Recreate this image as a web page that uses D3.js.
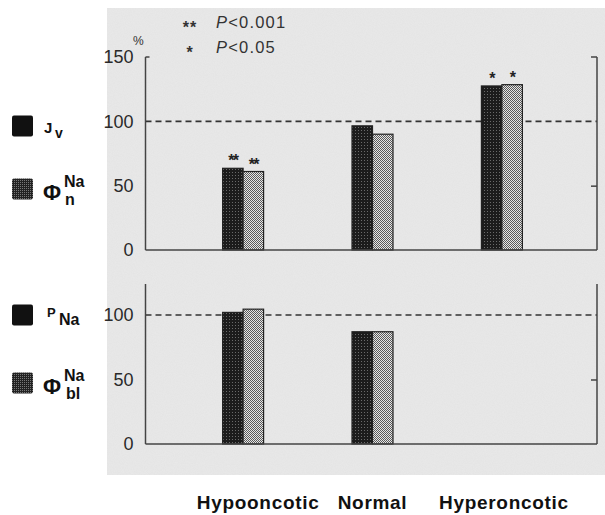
<!DOCTYPE html>
<html>
<head>
<meta charset="utf-8">
<script src="https://cdn.jsdelivr.net/npm/d3@7"></script>
<style>
  body { margin: 0; background: #fff; }
  svg { display: block; font-family: "Liberation Sans", Arial, sans-serif; }
  .tick text { font-size: 18px; fill: #2a2a2a; }
  .cat { font-size: 19px; font-weight: bold; letter-spacing: 0.7px; fill: #111; }
  .leg { font-weight: bold; fill: #111; }
</style>
</head>
<body>
<div id="chart"></div>
<script>
// conditions along the x axis
const categories = ["Hypooncotic", "Normal", "Hyperoncotic"];

// top panel (% of control)
const jv = [63.5, 96.5, 127.5];
const phiN = [61, 90, 128.5];
const topStars = ["**", "", "*"];

// bottom panel (% of control)
const pNa = [102, 87, null];
const phiBl = [104.5, 87, null];

const topTicks = [0, 50, 100, 150];
const bottomTicks = [0, 50, 100];

const width = 605, height = 515;
const axisL = 145.5, axisR = 597;
const barW = 20.5;

const svg = d3.select('#chart').append('svg').attr('width', width).attr('height', height);
const defs = svg.append('defs');

// dithered fills, like the printed halftone
const dark = defs.append('pattern').attr('id', 'dark').attr('width', 3).attr('height', 3).attr('patternUnits', 'userSpaceOnUse');
dark.append('rect').attr('width', 3).attr('height', 3).attr('fill', '#1c1c1c');
dark.append('rect').attr('x', 1).attr('y', 1).attr('width', 1).attr('height', 1).attr('fill', '#6a6a6a');

const light = defs.append('pattern').attr('id', 'light').attr('width', 2).attr('height', 2).attr('patternUnits', 'userSpaceOnUse');
light.append('rect').attr('width', 2).attr('height', 2).attr('fill', '#e6e6e6');
light.append('rect').attr('width', 1).attr('height', 1).attr('fill', '#5a5a5a');
light.append('rect').attr('x', 1).attr('y', 1).attr('width', 1).attr('height', 1).attr('fill', '#5a5a5a');

const legDots = defs.append('pattern').attr('id', 'legdots').attr('width', 2).attr('height', 2).attr('patternUnits', 'userSpaceOnUse');
legDots.append('rect').attr('width', 2).attr('height', 2).attr('fill', '#222');
legDots.append('rect').attr('width', 1).attr('height', 1).attr('fill', '#777');

// paper grain
const grain = defs.append('filter').attr('id', 'grain');
grain.append('feTurbulence').attr('type', 'fractalNoise').attr('baseFrequency', 0.9).attr('numOctaves', 2).attr('seed', 3);
grain.append('feColorMatrix').attr('type', 'matrix')
    .attr('values', '0 0 0 0 0.5  0 0 0 0 0.5  0 0 0 0 0.5  0 0 0 0.12 0');
grain.append('feComposite').attr('in2', 'SourceGraphic').attr('operator', 'in');

svg.append('rect').attr('x', 107).attr('y', 8).attr('width', width - 107).attr('height', 467).attr('fill', '#e9e9e9');
svg.append('rect').attr('x', 107).attr('y', 8).attr('width', width - 107).attr('height', 467).attr('fill', '#fff').attr('filter', 'url(#grain)');

const x = d3.scalePoint().domain(categories).range([148, 597]).padding(0.735);

function panel(yScale, ticks, a, b, stars) {
    const g = svg.append('g');
    const y0 = yScale(0), yTop = yScale.range()[1];

    // reference line at 100 %
    g.append('line').attr('x1', axisL).attr('x2', axisR).attr('y1', yScale(100)).attr('y2', yScale(100))
        .attr('stroke', '#333').attr('stroke-width', 1.6).attr('stroke-dasharray', '6,4');

    // bars
    categories.forEach((c, i) => {
        const cx = x(c);
        if (a[i] != null) {
            g.append('rect').attr('x', cx - barW).attr('y', yScale(a[i])).attr('width', barW).attr('height', y0 - yScale(a[i]))
                .attr('fill', 'url(#dark)').attr('stroke', '#222').attr('stroke-width', 1.2);
        }
        if (b[i] != null) {
            g.append('rect').attr('x', cx).attr('y', yScale(b[i])).attr('width', barW).attr('height', y0 - yScale(b[i]))
                .attr('fill', 'url(#light)').attr('stroke', '#222').attr('stroke-width', 1.2);
        }
        if (stars && stars[i]) {
            [[cx - barW / 2, a[i]], [cx + barW / 2, b[i]]].forEach(([sx, v]) => {
                g.append('text').attr('x', sx).attr('y', yScale(v) - 2).attr('text-anchor', 'middle')
                    .attr('font-size', 16).attr('font-weight', 'bold').attr('fill', '#222').attr('letter-spacing', -1.5)
                    .text(stars[i]);
            });
        }
    });

    // left axis labels
    const left = g.append('g').attr('transform', `translate(${axisL},0)`)
        .call(d3.axisLeft(yScale).tickValues(ticks).tickSize(0).tickPadding(12));
    left.select('.domain').remove();

    // axis frame
    g.append('line').attr('x1', axisL).attr('x2', axisL).attr('y1', yTop).attr('y2', y0).attr('stroke', '#444').attr('stroke-width', 1.5);
    g.append('line').attr('x1', axisR).attr('x2', axisR).attr('y1', yTop).attr('y2', y0).attr('stroke', '#444').attr('stroke-width', 1.5);
    g.append('line').attr('x1', axisL).attr('x2', axisR).attr('y1', y0).attr('y2', y0).attr('stroke', '#444').attr('stroke-width', 1.5);

    // inner ticks on the right side
    const right = g.append('g').attr('transform', `translate(${axisR},0)`)
        .call(d3.axisLeft(yScale).tickValues([50]).tickSize(6).tickSizeOuter(0).tickFormat(''));
    right.select('.domain').remove();
    right.selectAll('line').attr('stroke', '#444').attr('stroke-width', 1.5);
    return g;
}

const yTopPanel = d3.scaleLinear().domain([0, 150]).range([250, 57]);
const yBottomPanel = d3.scaleLinear().domain([0, 124]).range([444, 284]);

const gTop = panel(yTopPanel, topTicks, jv, phiN, topStars);
const gBot = panel(yBottomPanel, bottomTicks, pNa, phiBl, null);

// small end ticks at 150 in the top panel
gTop.append('line').attr('x1', axisL).attr('x2', axisL + 4).attr('y1', yTopPanel(150)).attr('y2', yTopPanel(150)).attr('stroke', '#444').attr('stroke-width', 1.5);
gTop.append('line').attr('x1', axisR - 6).attr('x2', axisR).attr('y1', yTopPanel(150)).attr('y2', yTopPanel(150)).attr('stroke', '#444').attr('stroke-width', 1.5);

// unit and significance key
svg.append('text').attr('x', 133).attr('y', 45).attr('font-size', 12).attr('fill', '#333').text('%');
const key = [["**", "P", "< 0.001", 28], ["*", "P", "< 0.05", 53]];
key.forEach(([s, p, rest, yy]) => {
    svg.append('text').attr('x', 190).attr('y', yy + 5).attr('text-anchor', 'middle').attr('font-size', 16)
        .attr('font-weight', 'bold').attr('fill', '#333').attr('letter-spacing', 1).text(s);
    const t = svg.append('text').attr('x', 216).attr('y', yy).attr('font-size', 16.5).attr('fill', '#333').attr('letter-spacing', 1.2);
    t.append('tspan').attr('font-style', 'italic').text(p);
    t.append('tspan').text(rest.replace(' ', ''));
});

// category labels
const labelDx = [15, 0, 2];
svg.selectAll('.cat').data(categories).join('text').attr('class', 'cat')
    .attr('x', (d, i) => x(d) + labelDx[i]).attr('y', 509).attr('text-anchor', 'middle').text(d => d);

// series legends on the left
function square(yc, fill) {
    svg.append('rect').attr('x', 12).attr('y', yc - 10.5).attr('width', 21).attr('height', 21).attr('rx', 2)
        .attr('fill', fill);
}
square(126, '#111');
svg.append('text').attr('class', 'leg').attr('x', 44).attr('y', 133).attr('font-size', 15).text('J');
svg.append('text').attr('class', 'leg').attr('x', 55).attr('y', 138).attr('font-size', 14).text('v');

square(189, 'url(#legdots)');
svg.append('text').attr('class', 'leg').attr('x', 43).attr('y', 200).attr('font-size', 22).text('Φ');
svg.append('text').attr('class', 'leg').attr('x', 64).attr('y', 187).attr('font-size', 16).text('Na');
svg.append('text').attr('class', 'leg').attr('x', 65).attr('y', 205).attr('font-size', 16).text('n');

square(315, '#111');
svg.append('text').attr('class', 'leg').attr('x', 47).attr('y', 317).attr('font-size', 13).text('P');
svg.append('text').attr('class', 'leg').attr('x', 59).attr('y', 325).attr('font-size', 16).text('Na');

square(383, 'url(#legdots)');
svg.append('text').attr('class', 'leg').attr('x', 43).attr('y', 394).attr('font-size', 22).text('Φ');
svg.append('text').attr('class', 'leg').attr('x', 64).attr('y', 381).attr('font-size', 16).text('Na');
svg.append('text').attr('class', 'leg').attr('x', 66).attr('y', 399).attr('font-size', 16).text('bl');
</script>
</body>
</html>
